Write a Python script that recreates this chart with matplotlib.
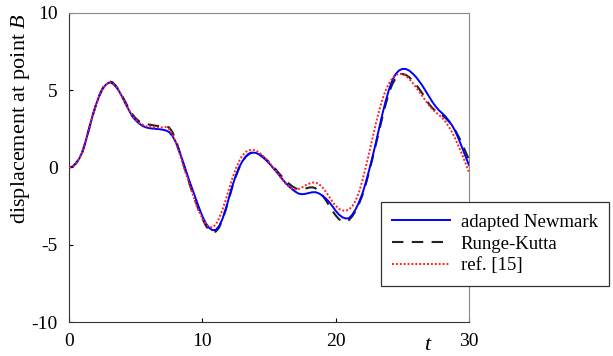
import matplotlib
matplotlib.use('Agg')
import matplotlib.pyplot as plt

plt.rcParams['font.family'] = ['Liberation Serif', 'DejaVu Serif']
plt.rcParams['mathtext.fontset'] = 'custom'
plt.rcParams['mathtext.rm'] = 'Liberation Serif'
plt.rcParams['mathtext.it'] = 'Liberation Serif:italic'
plt.rcParams['axes.unicode_minus'] = False

# time samples, step 0.25
t = [i * 0.25 for i in range(121)]

# displacement
newmark = [0.0, 0.05, 0.25, 0.55, 1.0, 1.7, 2.5, 3.3, 4.0, 4.6,
           5.05, 5.35, 5.5, 5.45, 5.25, 4.95, 4.55, 4.1, 3.7, 3.3,
           3.05, 2.85, 2.7, 2.6, 2.55, 2.52, 2.5, 2.48, 2.45, 2.4,
           2.3, 2.05, 1.65, 1.1, 0.5, -0.15, -0.8, -1.4, -2.0, -2.6,
           -3.15, -3.6, -3.9, -4.05, -4.05, -3.8, -3.35, -2.7, -1.95, -1.2,
           -0.55, 0.0, 0.4, 0.7, 0.88, 0.96, 0.95, 0.85, 0.68, 0.5,
           0.28, 0.03, -0.22, -0.48, -0.75, -1.0, -1.22, -1.42, -1.58, -1.7,
           -1.73, -1.7, -1.65, -1.6, -1.6, -1.68, -1.82, -2.0, -2.22, -2.5,
           -2.8, -3.05, -3.22, -3.3, -3.28, -3.05, -2.7, -2.25, -1.7, -1.0,
           -0.2, 0.65, 1.55, 2.5, 3.45, 4.3, 5.05, 5.65, 6.05, 6.28,
           6.38, 6.38, 6.28, 6.1, 5.88, 5.6, 5.3, 4.95, 4.6, 4.25,
           3.95, 3.7, 3.5, 3.28, 3.0, 2.7, 2.3, 1.8, 1.25, 0.7,
           0.15]
runge_kutta = [0.0, 0.05, 0.25, 0.55, 1.0, 1.7, 2.5, 3.3, 4.0, 4.62,
               5.1, 5.42, 5.58, 5.52, 5.3, 5.0, 4.62, 4.2, 3.8, 3.45,
               3.18, 3.0, 2.9, 2.83, 2.78, 2.74, 2.7, 2.68, 2.66, 2.65,
               2.6, 2.3, 1.8, 1.15, 0.45, -0.25, -0.95, -1.6, -2.2, -2.8,
               -3.3, -3.75, -4.05, -4.2, -4.15, -3.9, -3.4, -2.75, -2.0, -1.25,
               -0.6, -0.05, 0.38, 0.7, 0.9, 0.98, 0.97, 0.88, 0.72, 0.55,
               0.35, 0.12, -0.12, -0.38, -0.62, -0.85, -1.05, -1.22, -1.35, -1.42,
               -1.42, -1.36, -1.3, -1.28, -1.35, -1.55, -1.8, -2.1, -2.45, -2.8,
               -3.1, -3.35, -3.48, -3.5, -3.4, -3.15, -2.8, -2.35, -1.8, -1.1,
               -0.3, 0.55, 1.45, 2.35, 3.25, 4.1, 4.85, 5.4, 5.78, 5.98,
               6.05, 6.0, 5.85, 5.65, 5.4, 5.1, 4.8, 4.45, 4.1, 3.85,
               3.65, 3.5, 3.38, 3.2, 2.98, 2.7, 2.35, 1.95, 1.5, 1.0,
               0.5]
ref15 = [0.0, 0.05, 0.25, 0.55, 1.0, 1.7, 2.5, 3.3, 4.0, 4.6,
         5.05, 5.35, 5.5, 5.45, 5.25, 4.95, 4.55, 4.1, 3.72, 3.38,
         3.1, 2.9, 2.78, 2.68, 2.62, 2.6, 2.58, 2.58, 2.6, 2.62,
         2.5, 2.15, 1.65, 1.0, 0.3, -0.35, -1.0, -1.65, -2.3, -2.85,
         -3.3, -3.65, -3.85, -3.88, -3.7, -3.3, -2.75, -2.1, -1.4, -0.7,
         -0.1, 0.4, 0.78, 1.0, 1.12, 1.15, 1.1, 0.98, 0.8, 0.58,
         0.35, 0.08, -0.2, -0.5, -0.8, -1.05, -1.25, -1.38, -1.42, -1.38,
         -1.28, -1.15, -1.05, -0.98, -0.97, -1.08, -1.28, -1.55, -1.88, -2.2,
         -2.48, -2.68, -2.78, -2.8, -2.72, -2.5, -2.15, -1.6, -0.85, 0.0,
         0.9, 1.85, 2.8, 3.65, 4.4, 5.0, 5.45, 5.78, 5.98, 6.06,
         6.05, 5.95, 5.75, 5.5, 5.22, 4.92, 4.62, 4.32, 4.02, 3.78,
         3.58, 3.4, 3.2, 2.95, 2.62, 2.25, 1.8, 1.32, 0.8, 0.25,
         -0.3]

fig = plt.figure(figsize=(6.13, 3.56), dpi=100)
ax = fig.add_axes([0.1126, 0.0955, 0.6525, 0.868])

ax.plot(t, newmark, color='#0000ff', lw=1.4, label='adapted Newmark', zorder=3)
ax.plot(t, runge_kutta, color='#222222', lw=1.5, ls=(0, (5.5, 4)), label='Runge-Kutta', zorder=2)
ax.plot(t, ref15, color='#ff2020', lw=1.4, ls=(0, (1, 1)), label='ref. [15]', zorder=4)

ax.set_xlim(0, 30)
ax.set_ylim(-10, 10)
ax.set_xticks([0, 10, 20, 30])
ax.set_yticks([-10, -5, 0, 5, 10])
ax.tick_params(direction='in', length=3, width=0.8, labelsize=14, pad=8)
ax.tick_params(top=False, right=False)

for s in ['left', 'bottom']:
    ax.spines[s].set_color('#333333')
for s in ['top', 'right']:
    ax.spines[s].set_color('#888888')

ax.set_ylabel('displacement at point $B$', fontsize=16)
ax.yaxis.set_label_coords(-0.093, 0.66)
ax.set_xlabel('$t$', fontsize=16)
ax.xaxis.set_label_coords(0.8975, -0.045)

leg = ax.legend(loc='upper left', bbox_to_anchor=(0.779, 0.388), fontsize=13.5,
                frameon=True, fancybox=False, framealpha=1, edgecolor='#333333',
                handlelength=3.1, handletextpad=0.55, borderpad=0.62, labelspacing=0.25,
                borderaxespad=0)
leg.get_frame().set_linewidth(0.9)
leg.set_zorder(10)

fig.savefig('out.png', dpi=100)
